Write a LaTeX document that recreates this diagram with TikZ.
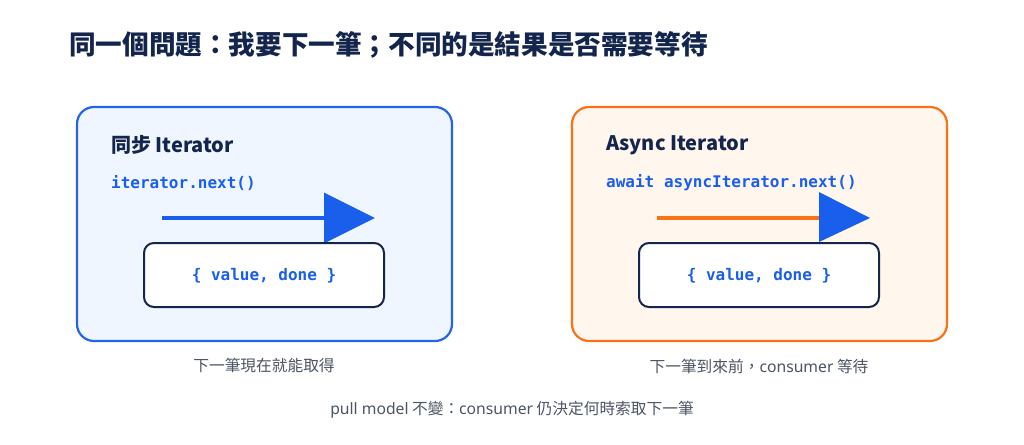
\documentclass[tikz,border=0pt]{standalone}
\usepackage{fontspec}
\setmainfont{Noto Sans CJK TC}
\newfontfamily\codefont{DejaVu Sans Mono}
\newfontfamily\latin{Noto Sans}
\usetikzlibrary{arrows.meta}
\definecolor{navy}{HTML}{14254D}
\definecolor{codeblue}{HTML}{1A5FEB}
\definecolor{boxblue}{HTML}{2563EB}
\definecolor{fillblue}{HTML}{EFF6FF}
\definecolor{boxorange}{HTML}{F97316}
\definecolor{fillorange}{HTML}{FFF6EE}
\definecolor{arrowblue}{HTML}{1A5FEB}
\definecolor{capgray}{HTML}{4B5563}
\tikzset{
  panelbox/.style={rounded corners=17pt, line width=2.2pt},
  valbox/.style={draw=navy, fill=white, line width=2pt, rounded corners=10pt},
  paneltitle/.style={anchor=west, inner sep=0pt, text=navy, font=\fontsize{20}{24}\selectfont\bfseries},
  codetext/.style={anchor=west, inner sep=0pt, text=codeblue, font=\codefont\fontsize{16}{19}\selectfont\bfseries},
  valtext/.style={inner sep=0pt, text=codeblue, font=\codefont\fontsize{16}{19}\selectfont\bfseries},
  captext/.style={inner sep=0pt, text=capgray, font=\fontsize{15.7}{18}\selectfont},
  callarrow/.style={line width=3.5pt, -{Triangle[length=51pt,width=50pt]}},
}
\begin{document}
\begin{tikzpicture}[x=1pt,y=-1pt]
\useasboundingbox (0,0) rectangle (1024,444);
\fill[white] (0,0) rectangle (1024,444);
% main title
\node[anchor=west, inner sep=0pt, text=navy, font=\fontsize{26.6}{30}\selectfont\bfseries] (title) at (69,45) {同一個問題：我要下一筆；不同的是結果是否需要等待};
% left panel
\draw[panelbox, draw=boxblue, fill=fillblue] (77,107) rectangle (452,341);
\node[paneltitle] (lt) at (111,145) {同步 Iterator};
\node[codetext] (lc) at (111,183) {iterator.next()};
\coordinate (la) at (162,218);
\coordinate (lb) at (375,218);
\draw[callarrow, draw=arrowblue, fill=arrowblue] (la) -- (lb);
\node[valbox, minimum width=240pt, minimum height=64pt, inner sep=0pt] (lv) at (264,275) {};
\node[valtext] (lvt) at (264,276) {\{ value, done \}};
\node[captext] (lcap) at (264,366) {下一筆現在就能取得};
% right panel
\draw[panelbox, draw=boxorange, fill=fillorange] (572,107) rectangle (947,341);
\node[paneltitle] (rt) at (606,145) {Async Iterator};
\node[codetext] (rc) at (606,183) {await asyncIterator.next()};
\coordinate (ra) at (657,218);
\coordinate (rb) at (870,218);
\draw[line width=3.5pt, draw=boxorange] (ra) -- (822,218);
\fill[arrowblue] (819,192) -- (rb) -- (819,242) -- cycle;
\node[valbox, minimum width=240pt, minimum height=64pt, inner sep=0pt] (rv) at (759,275) {};
\node[valtext] (rvt) at (759,276) {\{ value, done \}};
\node[captext] (rcap) at (759,366) {下一筆到來前，{\latin consumer} 等待};
% bottom note
\node[captext] (note) at (512,410) {{\latin pull model} 不變：{\latin consumer} 仍決定何時索取下一筆};
\end{tikzpicture}
\end{document}
